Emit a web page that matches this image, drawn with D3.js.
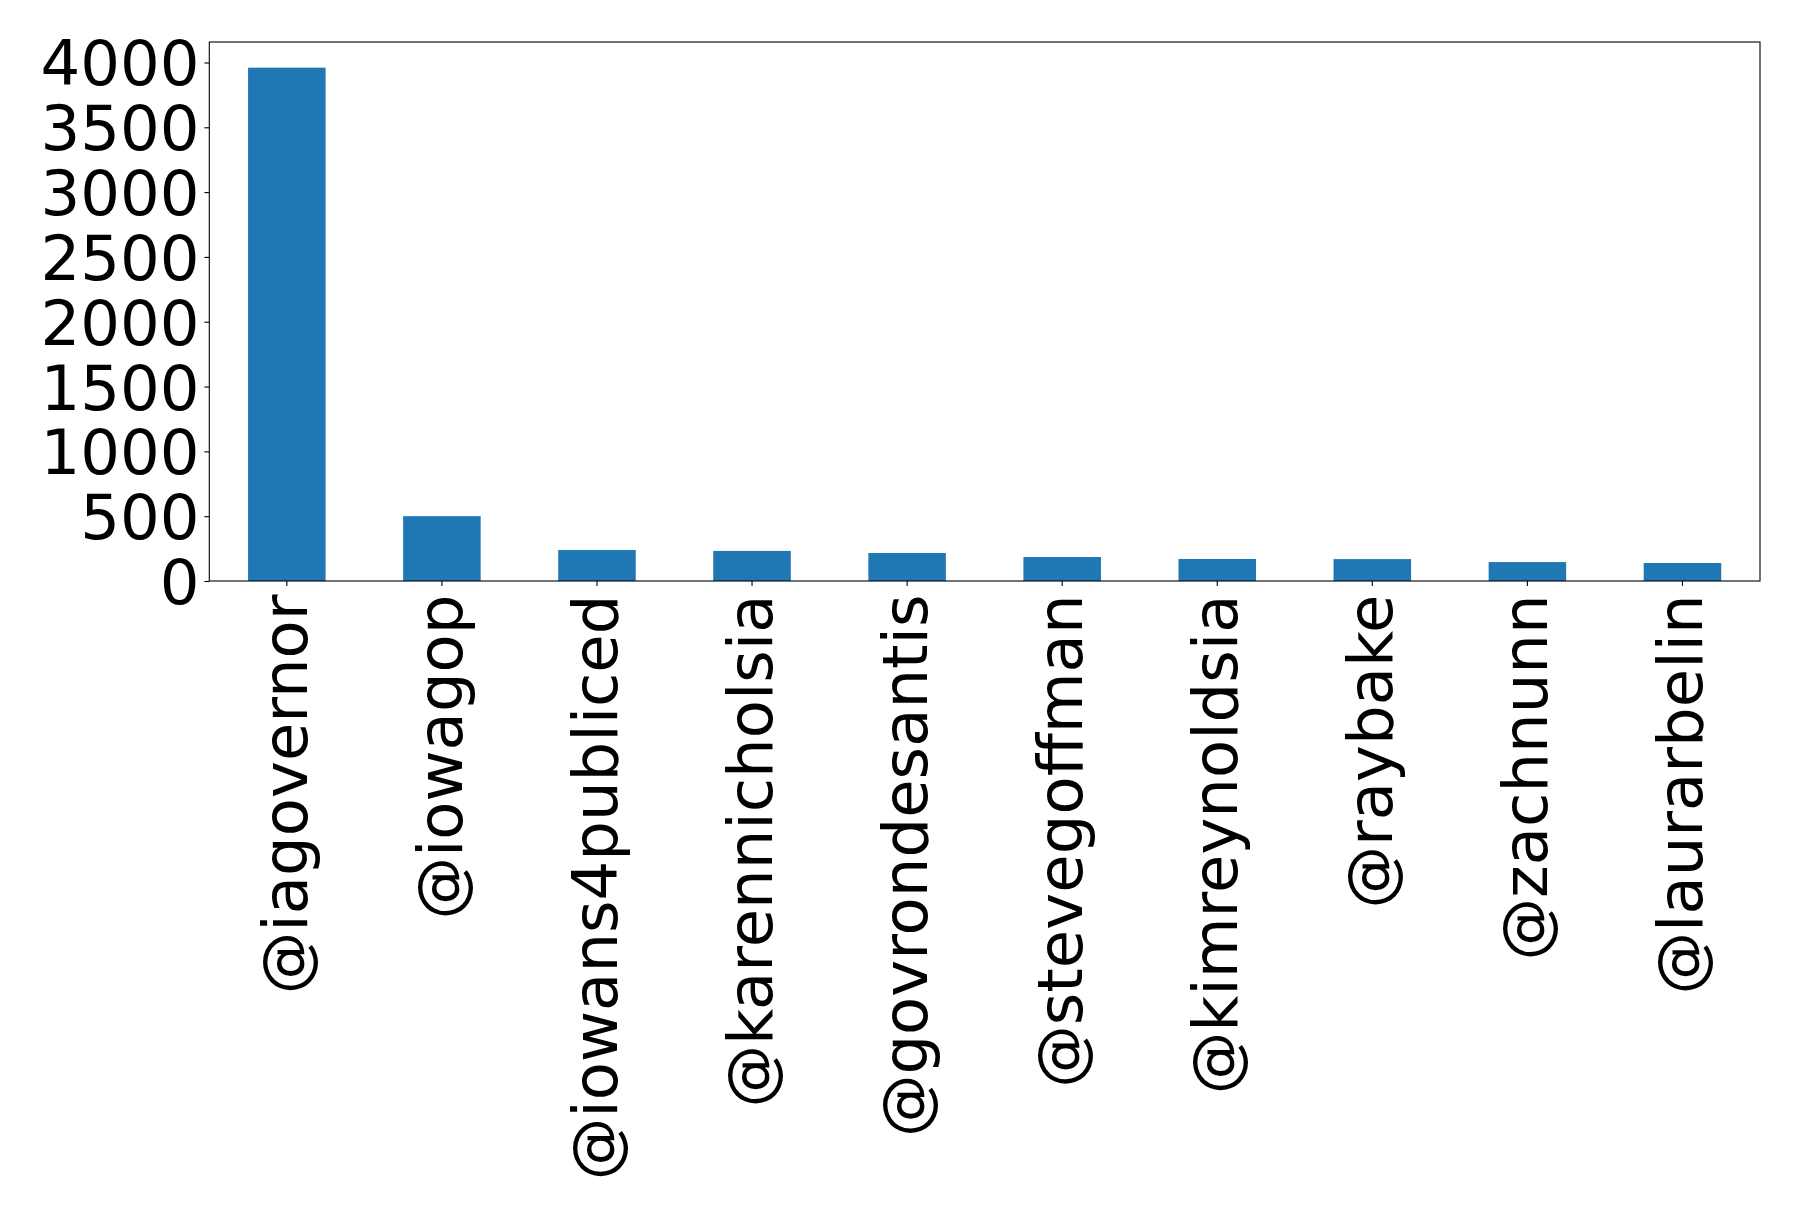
<!DOCTYPE html>
<html>
<head>
<meta charset="utf-8">
<script src="https://cdn.jsdelivr.net/npm/d3@7"></script>
<style>
  body { margin: 0; background: #fff; }
  svg { display: block; }
  .axis text { font-family: "DejaVu Sans", sans-serif; font-size: 62.5px; fill: #000; }
  .axis path, .axis line { stroke: #000; stroke-width: 1.1px; }
</style>
</head>
<body>
<svg width="1798" height="1216"></svg>
<script>
const handles = ['@iagovernor', '@iowagop', '@iowans4publiced', '@karennicholsia', '@govrondesantis',
  '@stevegoffman', '@kimreynoldsia', '@raybake', '@zachnunn', '@laurarbelin'];
const counts = [3960, 500, 239, 232, 216, 185, 170, 169, 146, 139];
const yTicks = [0, 500, 1000, 1500, 2000, 2500, 3000, 3500, 4000];

const svg = d3.select('svg');
svg.append('rect').attr('width', 1798).attr('height', 1216).attr('fill', '#fff');

const plotLeft = 209.3, plotRight = 1760, plotTop = 42, plotBottom = 581;
const width = plotRight - plotLeft;
const height = plotBottom - plotTop;

const chart = svg.append('g')
  .attr('transform', `translate(${plotLeft}, ${plotTop})`);

// pandas style: categories at 0..n-1, bar width 0.5, 0.5 margin on each side
const xScale = d3.scaleBand()
  .range([0, width])
  .domain(handles)
  .paddingInner(0.5)
  .paddingOuter(0.25);

const yScale = d3.scaleLinear()
  .range([height, 0])
  .domain([0, d3.max(counts) * 1.05]);

chart.selectAll('.bar')
  .data(handles)
  .enter()
  .append('rect')
  .attr('class', 'bar')
  .attr('x', (d) => xScale(d))
  .attr('y', (d, i) => yScale(counts[i]))
  .attr('width', xScale.bandwidth())
  .attr('height', (d, i) => height - yScale(counts[i]))
  .attr('fill', '#1f77b4');

const yAxis = chart.append('g')
  .attr('class', 'axis')
  .call(d3.axisLeft(yScale).tickValues(yTicks).tickFormat(d3.format('d'))
    .tickSize(4.9).tickPadding(4.9).tickSizeOuter(0));
yAxis.select('.domain').remove();
yAxis.selectAll('text').attr('dy', '0.36em');

const xAxis = chart.append('g')
  .attr('class', 'axis')
  .attr('transform', `translate(0, ${height})`)
  .call(d3.axisBottom(xScale).tickSize(4.9).tickPadding(4.9).tickSizeOuter(0));
xAxis.select('.domain').remove();
xAxis.selectAll('text')
  .attr('transform', 'rotate(-90)')
  .attr('text-anchor', 'end')
  .attr('x', -13.5)
  .attr('y', 0)
  .attr('dy', '0.32em');

// frame
chart.append('rect')
  .attr('width', width)
  .attr('height', height)
  .attr('fill', 'none')
  .attr('stroke', '#000')
  .attr('stroke-width', 1.1);
</script>
</body>
</html>
